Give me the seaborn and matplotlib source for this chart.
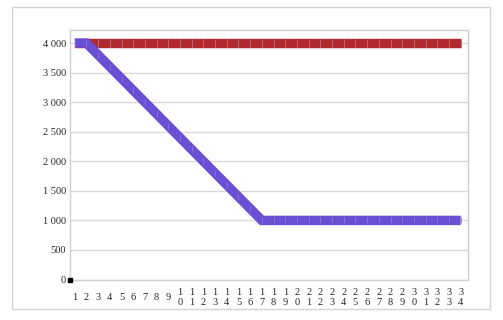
import matplotlib
matplotlib.use("Agg")
import matplotlib.pyplot as plt
import seaborn as sns
import pandas as pd
from matplotlib.patches import Rectangle

categories = list(range(1, 35))
red_values = [4000] * 34
purple_values = [4000, 4000, 3800, 3600, 3400, 3200, 3000, 2800, 2600, 2400,
                 2200, 2000, 1800, 1600, 1400, 1200, 1000] + [1000] * 17
y_ticks = [0, 500, 1000, 1500, 2000, 2500, 3000, 3500, 4000]
y_labels = ["0", "500", "1 000", "1 500", "2 000", "2 500", "3 000", "3 500", "4 000"]
x_labels = ["\n".join(str(c)) for c in categories]

df = pd.DataFrame({"x": categories, "red": red_values, "purple": purple_values})

sns.set_theme(style="white")
plt.rcParams['font.family'] = ['Liberation Serif', 'DejaVu Serif']

fig = plt.figure(figsize=(5.03, 3.20), dpi=100)
fig.patch.set_facecolor("white")
ax = fig.add_axes([70.3 / 503, 1 - 279.5 / 320, (467.7 - 70.3) / 503, (279.5 - 29.5) / 320])

fig.patches.append(Rectangle((11.7 / 503, 1 - 309 / 320), (490 - 11.7) / 503, (309 - 7.3) / 320,
                             transform=fig.transFigure, fill=False, edgecolor="#d4d4d4", linewidth=1.0))

lw = 6.8
sns.lineplot(data=df, x="x", y="red", ax=ax, color="#b02a30", linewidth=lw,
             solid_capstyle="butt", solid_joinstyle="miter", zorder=3)
sns.lineplot(data=df, x="x", y="red", ax=ax, linewidth=0,
             marker="|", markersize=lw * 0.85, markeredgewidth=0.6, markeredgecolor="#cd7077", zorder=3.1)
sns.lineplot(data=df, x="x", y="purple", ax=ax, color="#6a4fd4", linewidth=lw,
             solid_capstyle="butt", solid_joinstyle="miter", zorder=4)
sns.lineplot(data=df, x="x", y="purple", ax=ax, linewidth=0,
             marker="|", markersize=lw * 0.7, markeredgewidth=0.6, markeredgecolor="#8a76de", zorder=4.1)

ax.set_xlim(0.62, 34.6)
ax.set_ylim(0, 4230)
ax.set_yticks(y_ticks)
ax.set_yticklabels(y_labels, fontsize=7.5)
ax.set_xticks(categories)
ax.set_xticklabels(x_labels, fontsize=7.5, linespacing=1.05, va="center")
ax.tick_params(axis="x", length=0, pad=13)
ax.tick_params(axis="y", length=0, pad=3)
ax.set_xlabel("")
ax.set_ylabel("")
ax.grid(axis="y", color="#d9d9d9", linewidth=1.0)
for s in ax.spines.values():
    s.set_color("#d0d0d0")
    s.set_linewidth(1.0)
ax.plot([0.62], [0], marker="s", color="black", markersize=2.5, clip_on=False, zorder=5)

fig.savefig("out.png", dpi=100)
